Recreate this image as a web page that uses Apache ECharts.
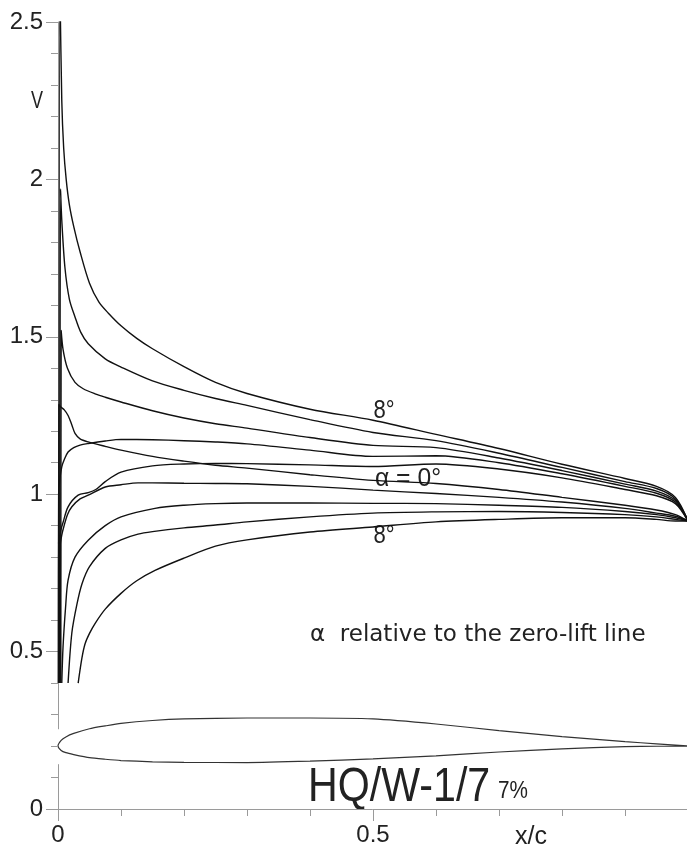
<!DOCTYPE html>
<html><head><meta charset="utf-8">
<script src="https://cdn.jsdelivr.net/npm/echarts@6/dist/echarts.min.js"></script>
<style>html,body{margin:0;padding:0;background:#fff}#c{width:687px;height:850px}</style>
</head><body><div id="c"></div>
<script>
// ---- velocity distributions V(x/c), upper surface (U) and lower surface (L), alpha = 0..8 deg ----
const u8X = [0.0015, 0.003, 0.006, 0.009, 0.013, 0.018, 0.025, 0.035, 0.05, 0.065, 0.08, 0.1, 0.125, 0.15, 0.2, 0.25, 0.3, 0.4, 0.5, 0.6, 0.7, 0.8, 0.9, 0.95, 0.98, 1.0];
const u8V = [0.4, 2.62, 2.25, 2.1, 2.0, 1.92, 1.85, 1.77, 1.67, 1.61, 1.575, 1.535, 1.495, 1.462, 1.405, 1.355, 1.32, 1.27, 1.235, 1.19, 1.145, 1.095, 1.05, 1.025, 0.99, 0.915];
const u6X = [0.003, 0.004, 0.006, 0.011, 0.018, 0.027, 0.036, 0.048, 0.075, 0.1, 0.15, 0.2, 0.25, 0.3, 0.4, 0.5, 0.6, 0.7, 0.8, 0.9, 0.95, 0.98, 1.0];
const u6V = [0.4, 1.97, 1.87, 1.72, 1.62, 1.563, 1.515, 1.478, 1.43, 1.404, 1.36, 1.33, 1.304, 1.282, 1.237, 1.196, 1.17, 1.13, 1.085, 1.04, 1.018, 0.985, 0.915];
const u4X = [0.0045, 0.005, 0.008, 0.015, 0.027, 0.04, 0.06, 0.075, 0.1, 0.15, 0.2, 0.25, 0.3, 0.4, 0.5, 0.6, 0.7, 0.8, 0.9, 0.95, 0.98, 1.0];
const u4V = [0.4, 1.52, 1.46, 1.40, 1.355, 1.335, 1.318, 1.308, 1.293, 1.265, 1.242, 1.224, 1.21, 1.18, 1.155, 1.148, 1.115, 1.075, 1.032, 1.01, 0.98, 0.915];
const u2X = [0.0005, 0.001, 0.003, 0.006, 0.01, 0.016, 0.025, 0.035, 0.048, 0.075, 0.1, 0.15, 0.2, 0.25, 0.3, 0.4, 0.5, 0.6, 0.7, 0.8, 0.9, 0.95, 0.98, 1.0];
const u2V = [0.4, 1.0, 1.05, 1.087, 1.11, 1.134, 1.148, 1.156, 1.161, 1.169, 1.174, 1.173, 1.17, 1.166, 1.16, 1.14, 1.12, 1.122, 1.10, 1.065, 1.025, 1.003, 0.975, 0.915];
const u0X = [0.002, 0.0025, 0.005, 0.008, 0.016, 0.032, 0.048, 0.06, 0.075, 0.1, 0.15, 0.2, 0.25, 0.3, 0.4, 0.5, 0.6, 0.7, 0.8, 0.9, 0.95, 0.98, 1.0];
const u0V = [0.4, 0.86, 0.89, 0.91, 0.96, 0.997, 1.005, 1.015, 1.04, 1.07, 1.09, 1.096, 1.098, 1.097, 1.093, 1.088, 1.096, 1.08, 1.052, 1.015, 0.995, 0.97, 0.915];
const l0X = [0.001, 0.0015, 0.004, 0.01, 0.016, 0.022, 0.027, 0.035, 0.048, 0.075, 0.1, 0.15, 0.2, 0.25, 0.3, 0.4, 0.5, 0.6, 0.7, 0.8, 0.9, 0.95, 0.98, 1.0];
const l0V = [0.4, 1.285, 1.278, 1.268, 1.25, 1.22, 1.193, 1.176, 1.166, 1.152, 1.14, 1.12, 1.105, 1.092, 1.083, 1.062, 1.044, 1.034, 1.015, 0.99, 0.965, 0.95, 0.935, 0.915];
const l2X = [0.0035, 0.004, 0.006, 0.009, 0.015, 0.022, 0.035, 0.048, 0.075, 0.1, 0.127, 0.15, 0.2, 0.25, 0.3, 0.4, 0.5, 0.6, 0.7, 0.8, 0.9, 0.95, 0.98, 1.0];
const l2V = [0.4, 0.84, 0.87, 0.895, 0.935, 0.96, 0.985, 0.997, 1.023, 1.03, 1.036, 1.036, 1.035, 1.034, 1.033, 1.025, 1.013, 1.002, 0.99, 0.975, 0.955, 0.94, 0.93, 0.915];
const l4X = [0.006, 0.008, 0.012, 0.016, 0.027, 0.048, 0.075, 0.1, 0.154, 0.2, 0.25, 0.3, 0.4, 0.5, 0.6, 0.7, 0.8, 0.9, 0.95, 0.98, 1.0];
const l4V = [0.4, 0.515, 0.64, 0.727, 0.80, 0.854, 0.90, 0.928, 0.955, 0.965, 0.970, 0.972, 0.972, 0.971, 0.970, 0.965, 0.958, 0.945, 0.935, 0.925, 0.915];
const l6X = [0.016, 0.022, 0.03, 0.038, 0.05, 0.075, 0.1, 0.127, 0.15, 0.2, 0.25, 0.3, 0.4, 0.5, 0.6, 0.7, 0.8, 0.9, 0.95, 0.98, 1.0];
const l6V = [0.4, 0.56, 0.65, 0.715, 0.77, 0.828, 0.855, 0.873, 0.881, 0.893, 0.902, 0.912, 0.928, 0.94, 0.944, 0.945, 0.942, 0.935, 0.928, 0.92, 0.915];
const l8X = [0.032, 0.038, 0.043, 0.05, 0.059, 0.075, 0.1, 0.125, 0.154, 0.2, 0.25, 0.3, 0.4, 0.5, 0.6, 0.7, 0.8, 0.9, 0.95, 0.98, 1.0];
const l8V = [0.4, 0.48, 0.525, 0.558, 0.59, 0.635, 0.685, 0.725, 0.758, 0.797, 0.835, 0.855, 0.88, 0.896, 0.912, 0.92, 0.925, 0.925, 0.92, 0.915, 0.915];

// ---- airfoil HQ/W-1/7 contour (z/c) ----
const foilX     = [0, 0.005, 0.0125, 0.025, 0.05, 0.075, 0.1, 0.15, 0.2, 0.3, 0.4, 0.5, 0.6, 0.7, 0.8, 0.9, 0.95, 1.0];
const foilUpper = [0, 0.009, 0.0145, 0.02, 0.0275, 0.032, 0.036, 0.0405, 0.043, 0.0445, 0.0445, 0.043, 0.035, 0.0245, 0.015, 0.007, 0.0035, 0];
const foilLower = [0, -0.007, -0.0105, -0.0135, -0.0185, -0.021, -0.023, -0.025, -0.026, -0.0262, -0.024, -0.0205, -0.0155, -0.0095, -0.0045, -0.001, -0.0003, 0];

// ---- tick labels ----
const yTickLabels = ['0', '0.5', '1', '1.5', '2', '2.5'];
const xTickLabels = ['0', '0.5'];

const curves = [
  [u8X, u8V], [u6X, u6V], [u4X, u4V], [u2X, u2V], [u0X, u0V],
  [l0X, l0V], [l2X, l2V], [l4X, l4V], [l6X, l6V], [l8X, l8V]
];

const G = { left: 58, top: 22, width: 630, height: 787 };
const yMax = 2.5;
const foilBase = 0.2;
const foilScale = (G.width / 1) / (G.height / yMax); // true aspect ratio

const zip = (xs, ys) => xs.map((x, i) => [x, ys[i]]);
const foilData = [];
for (let i = foilX.length - 1; i >= 0; i--) foilData.push([foilX[i], foilBase + foilScale * foilUpper[i]]);
for (let i = 1; i < foilX.length; i++) foilData.push([foilX[i], foilBase + foilScale * foilLower[i]]);

const axisGray = '#9a9a9a';
const labelFont = "'Liberation Sans', Arial, sans-serif";

const series = curves.map(c => ({
  type: 'line', data: zip(c[0], c[1]), symbol: 'none', smooth: 0.3,
  clip: true, silent: true,
  lineStyle: { color: '#111', width: 1.4 }
}));
series.push({
  type: 'line', data: foilData, symbol: 'none', smooth: 0.2, silent: true,
  lineStyle: { color: '#333', width: 1.2 }
});

const textEls = [
  { type: 'text', x: 37, y: 101, scaleX: 0.75, style: { text: 'V', font: "24px " + labelFont, fill: '#222', align: 'center', verticalAlign: 'middle' } },
  { type: 'text', x: 531, y: 837, style: { text: 'x/c', font: "25px " + labelFont, fill: '#222', align: 'center', verticalAlign: 'middle' } },
  { type: 'text', x: 384, y: 411, scaleX: 0.85, style: { text: '8°', font: "26px " + labelFont, fill: '#222', align: 'center', verticalAlign: 'middle' } },
  { type: 'text', x: 384, y: 536, scaleX: 0.85, style: { text: '8°', font: "26px " + labelFont, fill: '#222', align: 'center', verticalAlign: 'middle' } },
  { type: 'text', x: 408, y: 479, scaleX: 0.95, style: { text: 'α = 0°', font: "26px " + labelFont, fill: '#222', align: 'center', verticalAlign: 'middle' } },
  { type: 'text', x: 310, y: 635, style: { text: 'α  relative to the zero-lift line', font: "23px 'DejaVu Sans', sans-serif", fill: '#222', align: 'left', verticalAlign: 'middle' } },
  { type: 'text', x: 308, y: 787, scaleX: 0.84, style: { text: 'HQ/W-1/7', font: "49px " + labelFont, fill: '#222', align: 'left', verticalAlign: 'middle' } },
  { type: 'text', x: 498, y: 792, scaleX: 0.9, style: { text: '7%', font: "23px " + labelFont, fill: '#222', align: 'left', verticalAlign: 'middle' } }
];

const chart = echarts.init(document.getElementById('c'), null, { renderer: 'canvas' });
chart.setOption({
  animation: false,
  backgroundColor: '#fff',
  grid: Object.assign({ outerBoundsMode: 'none', containLabel: false }, G),
  xAxis: {
    type: 'value', min: 0, max: 1, interval: 0.5,
    axisLine: { show: true, lineStyle: { color: axisGray, width: 1 } },
    axisTick: { show: true, length: 12, lineStyle: { color: axisGray } },
    minorTick: { show: true, splitNumber: 5, length: 7, lineStyle: { color: axisGray } },
    splitLine: { show: false }, minorSplitLine: { show: false },
    axisLabel: {
      margin: 14, color: '#222', fontSize: 24, fontFamily: labelFont,
      formatter: v => xTickLabels.includes(String(v)) ? String(v) : ''
    }
  },
  yAxis: {
    type: 'value', min: 0, max: yMax, interval: 0.5,
    axisLine: { show: true, lineStyle: { color: axisGray, width: 1 } },
    axisTick: { show: true, length: 12, lineStyle: { color: axisGray } },
    minorTick: { show: true, splitNumber: 5, length: 7, lineStyle: { color: axisGray } },
    splitLine: { show: false }, minorSplitLine: { show: false },
    axisLabel: {
      margin: 15, color: '#222', fontSize: 24, fontFamily: labelFont,
      formatter: v => yTickLabels.includes(String(v)) ? String(v) : ''
    }
  },
  series: series,
  graphic: textEls
});

// the axis line is interrupted where the airfoil nose touches it
const maxT = Math.max(...foilUpper), minT = Math.min(...foilLower);
const pTop = chart.convertToPixel({ gridIndex: 0 }, [0, foilBase + foilScale * maxT * 0.6]);
const pBot = chart.convertToPixel({ gridIndex: 0 }, [0, foilBase + foilScale * minT * 1.1]);
chart.setOption({
  graphic: textEls.concat([{
    type: 'rect', z: 1, silent: true,
    shape: { x: pTop[0] - 1, y: pTop[1], width: 2.5, height: pBot[1] - pTop[1] },
    style: { fill: '#fff' }
  }])
});
</script>
</body></html>
